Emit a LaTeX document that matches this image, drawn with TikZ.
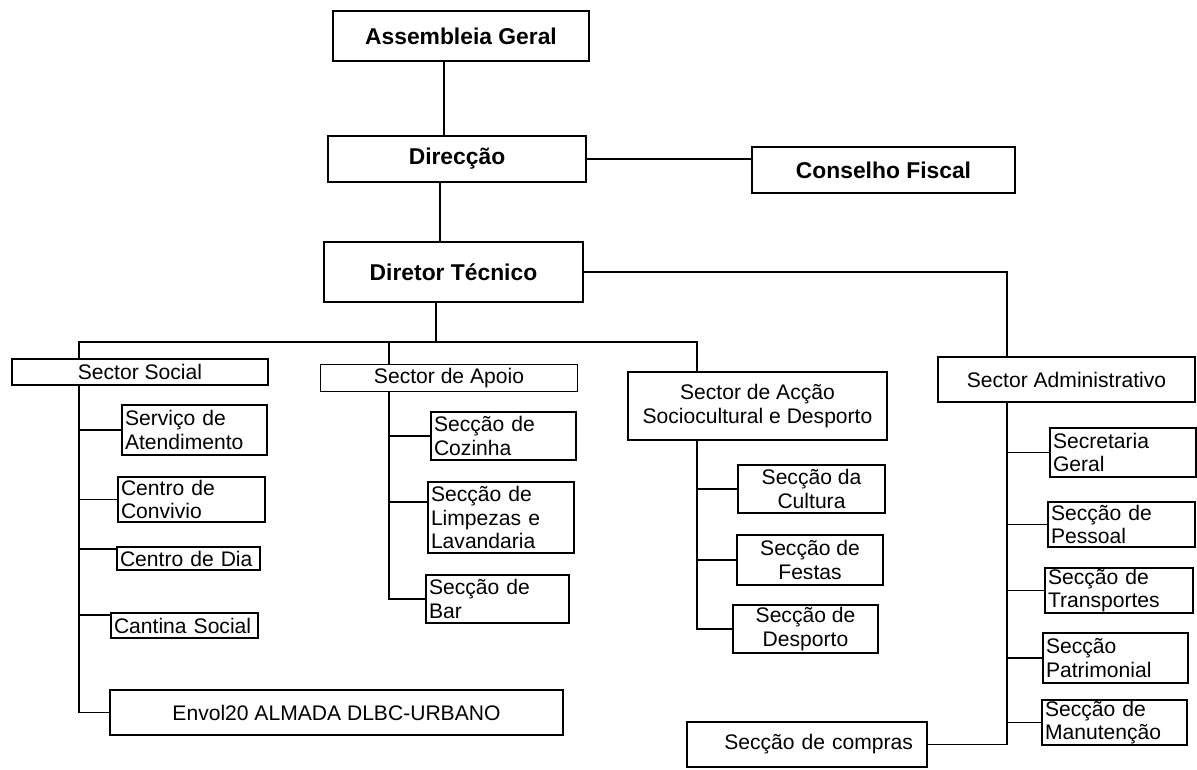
\documentclass[tikz,border=0pt]{standalone}
\usepackage{fontspec}
\setmainfont{Liberation Sans}
\begin{document}
\begin{tikzpicture}[x=0.02cm,y=-0.02cm,line width=0.9pt,
  topbox/.style={draw,line width=0.9pt,inner sep=0pt,align=center,font=\bfseries\fontsize{13}{15}\selectfont},
  sectbox/.style={draw,line width=0.9pt,inner sep=0pt,align=center,font=\fontsize{12}{13.5}\selectfont},
  leafbox/.style={draw,line width=0.9pt,inner xsep=0.06cm,inner ysep=0.5pt,align=left,font=\fontsize{12}{13.5}\selectfont},
  leafcbox/.style={draw,line width=0.9pt,inner sep=0.5pt,align=center,font=\fontsize{12}{13.5}\selectfont}]
\useasboundingbox (0,0) rectangle (1197,769);

% top level
\node[topbox,minimum width=5.12cm,minimum height=1.00cm] (ag) at (461,36) {Assembleia Geral};
\node[topbox,minimum width=5.16cm,minimum height=0.92cm] (dir) at (457,159) {Direcção};
\node[topbox,minimum width=5.26cm,minimum height=0.92cm] (cf) at (883.5,170) {Conselho Fiscal};
\node[topbox,minimum width=5.18cm,minimum height=1.20cm] (dt) at (453.5,272) {Diretor Técnico};

% sectors
\node[sectbox,minimum width=5.12cm,minimum height=0.52cm] (ss) at (140,372) {Sector Social};
\node[sectbox,minimum width=5.14cm,minimum height=0.54cm] (sap) at (449,378) {Sector de Apoio};
\node[sectbox,minimum width=5.18cm,minimum height=1.36cm] (sac) at (757.5,406) {Sector de Acção\\Sociocultural e Desporto};
\node[sectbox,minimum width=5.14cm,minimum height=0.90cm] (sadm) at (1066.5,379.5) {Sector Administrativo};

% social
\node[leafbox,text width=2.78cm,minimum height=1.00cm] (serv) at (194.5,430) {Serviço de\\Atendimento};
\node[leafbox,text width=2.82cm,minimum height=0.90cm] (conv) at (191.5,499.5) {Centro de\\Convivio};
\node[leafbox,text width=2.74cm,minimum height=0.46cm] (cdia) at (188.5,558.5) {Centro de Dia};
\node[leafbox,text width=2.82cm,minimum height=0.50cm] (cant) at (184.5,625.5) {Cantina Social};
\node[sectbox,minimum width=9.06cm,minimum height=0.90cm] (envol) at (336.5,712.5) {Envol20 ALMADA DLBC-URBANO};

% apoio
\node[leafbox,text width=2.78cm,minimum height=0.96cm] (coz) at (503.5,436) {Secção de\\Cozinha};
\node[leafbox,text width=2.80cm,minimum height=1.42cm] (limp) at (501,517.5) {Secção de\\Limpezas e\\Lavandaria};
\node[leafbox,text width=2.74cm,minimum height=0.96cm] (bar) at (497.5,599) {Secção de\\Bar};

% accao
\node[leafcbox,minimum width=2.94cm,minimum height=0.96cm] (cult) at (811.5,489) {Secção da\\Cultura};
\node[leafcbox,minimum width=2.92cm,minimum height=1.00cm] (fest) at (810,560) {Secção de\\Festas};
\node[leafcbox,minimum width=2.90cm,minimum height=0.96cm] (desp) at (805.5,629) {Secção de\\Desporto};

% administrativo
\node[leafbox,text width=2.80cm,minimum height=0.98cm] (sec) at (1123,452.5) {Secretaria\\Geral};
\node[leafbox,text width=2.82cm,minimum height=0.90cm] (pess) at (1121.5,524.5) {Secção de\\Pessoal};
\node[leafbox,text width=2.84cm,minimum height=0.90cm] (trans) at (1119,590.5) {Secção de\\Transportes};
\node[leafbox,text width=2.78cm,minimum height=1.00cm] (patr) at (1115.5,658) {Secção\\Patrimonial};
\node[leafbox,text width=2.78cm,minimum height=0.90cm] (manut) at (1114.5,722.5) {Secção de\\Manutenção};
\node[leafbox,align=right,inner xsep=0.28cm,text width=4.24cm,minimum height=0.90cm] (comp) at (807,744.5) {Secção de compras};

% helper coordinates
\coordinate (xa) at (444,0);
\coordinate (xb) at (440,0);
\coordinate (xc) at (436,0);
\coordinate (bary) at (0,342);
\coordinate (sx) at (79,0);
\coordinate (px) at (389,0);
\coordinate (ax) at (697,0);
\coordinate (dx) at (1007,0);
\coordinate (cdiaC) at ([yshift=-0.05cm]cdia.north west);
\coordinate (cantC) at ([yshift=-0.05cm]cant.north west);
\coordinate (limpC) at ([yshift=-0.42cm]limp.north west);

% top connectors
\draw (ag.south -| xa) -- (dir.north -| xa);
\draw (dir.south -| xb) -- (dt.north -| xb);
\draw (dir.east) -- (dir.east -| cf.west);
\draw (dt.east) -| (sadm.north -| dx);
\draw (dt.south -| xc) -- (xc |- bary);
\draw (ss.north -| sx) -- (sx |- bary) -- (ax |- bary) -- (sac.north -| ax);
\draw (px |- bary) -- (sap.north -| px);

% social
\draw (ss.south -| sx) |- (envol.west);
\draw (sx |- serv.west) -- (serv.west);
\draw (sx |- conv.west) -- (conv.west);
\draw (sx |- cdiaC) -- (cdiaC);
\draw (sx |- cantC) -- (cantC);

% apoio
\draw (sap.south -| px) |- (bar.west);
\draw (px |- coz.west) -- (coz.west);
\draw (px |- limpC) -- (limpC);

% accao
\draw (sac.south -| ax) |- (desp.west);
\draw (ax |- cult.west) -- (cult.west);
\draw (ax |- fest.west) -- (fest.west);

% administrativo
\draw (sadm.south -| dx) |- (comp.east);
\draw (dx |- sec.west) -- (sec.west);
\draw (dx |- pess.west) -- (pess.west);
\draw (dx |- trans.west) -- (trans.west);
\draw (dx |- patr.west) -- (patr.west);
\draw (dx |- manut.west) -- (manut.west);
\end{tikzpicture}
\end{document}
